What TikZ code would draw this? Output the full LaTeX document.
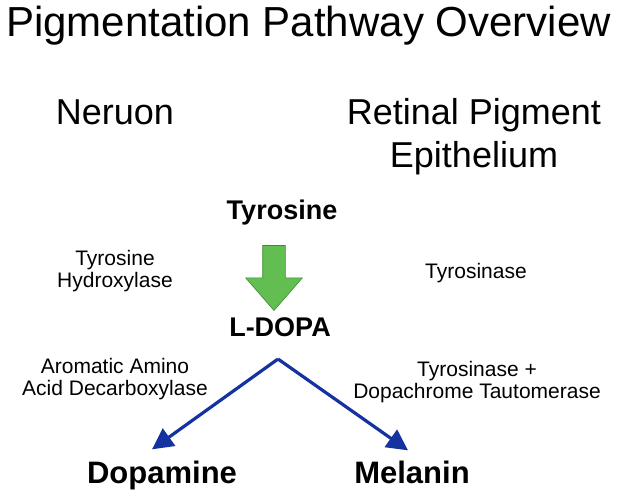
\documentclass[tikz,border=0pt]{standalone}
\usepackage{fontspec}
\setmainfont{Liberation Sans}
\usetikzlibrary{shapes.arrows,arrows.meta}
\definecolor{pathblue}{RGB}{20,50,160}
\definecolor{arrowgreen}{RGB}{98,190,80}
\definecolor{arrowedge}{RGB}{60,140,50}

\begin{document}
\begin{tikzpicture}[x=1pt,y=-1pt]
% Styles
\tikzset{
    heading/.style={font=\fontsize{36}{43}\selectfont, align=center, anchor=base, inner sep=0},
    enzyme/.style={font=\fontsize{21}{21.5}\selectfont, align=center, anchor=base, inner sep=0},
    compound/.style={font=\bfseries\fontsize{27}{32}\selectfont, anchor=base, inner sep=0},
    product/.style={font=\bfseries\fontsize{31}{37}\selectfont, anchor=base, inner sep=0},
    stepbox/.style={single arrow, draw=arrowedge, fill=arrowgreen, line width=0.6pt,
        rotate=-90, inner xsep=0, inner ysep=11, minimum height=65,
        single arrow head extend=17, single arrow head indent=0, single arrow tip angle=82},
    branch/.style={draw=pathblue, line width=3.2pt, -{Triangle[length=21pt,width=21pt]}}
}
\useasboundingbox (0,0) rectangle (617,495);

% Nodes
\node[font=\fontsize{42}{50}\selectfont, anchor=base, inner sep=0] (title) at (308.5,37) {Pigmentation Pathway Overview};
\node[heading] (neuron) at (115,124) {Neruon};
\node[heading] (rpe) at (474,167) {Retinal Pigment\\Epithelium};

\node[compound] (tyr) at (282,219) {Tyrosine};
\node[compound] (dopa) at (280,336) {L-DOPA};
\node[product] (dopamine) at (162,483) {Dopamine};
\node[product] (melanin) at (412,483) {Melanin};

\node[enzyme] (th) at (115,287) {Tyrosine\\Hydroxylase};
\node[enzyme] (tyrase) at (476,278) {Tyrosinase};
\node[enzyme] (aadc) at (115,395) {Aromatic Amino\\Acid Decarboxylase};
\node[enzyme] (tdt) at (477,398) {Tyrosinase +\\Dopachrome Tautomerase};

% Connections
\node[stepbox] (hydrox) at (274,271.5) {};
\coordinate (fork) at (278,359);
\draw[branch] (fork) -- ([xshift=-10pt,yshift=11pt]dopamine.north);
\draw[branch] (fork) -- ([xshift=-4pt,yshift=10pt]melanin.north);
\end{tikzpicture}
\end{document}
